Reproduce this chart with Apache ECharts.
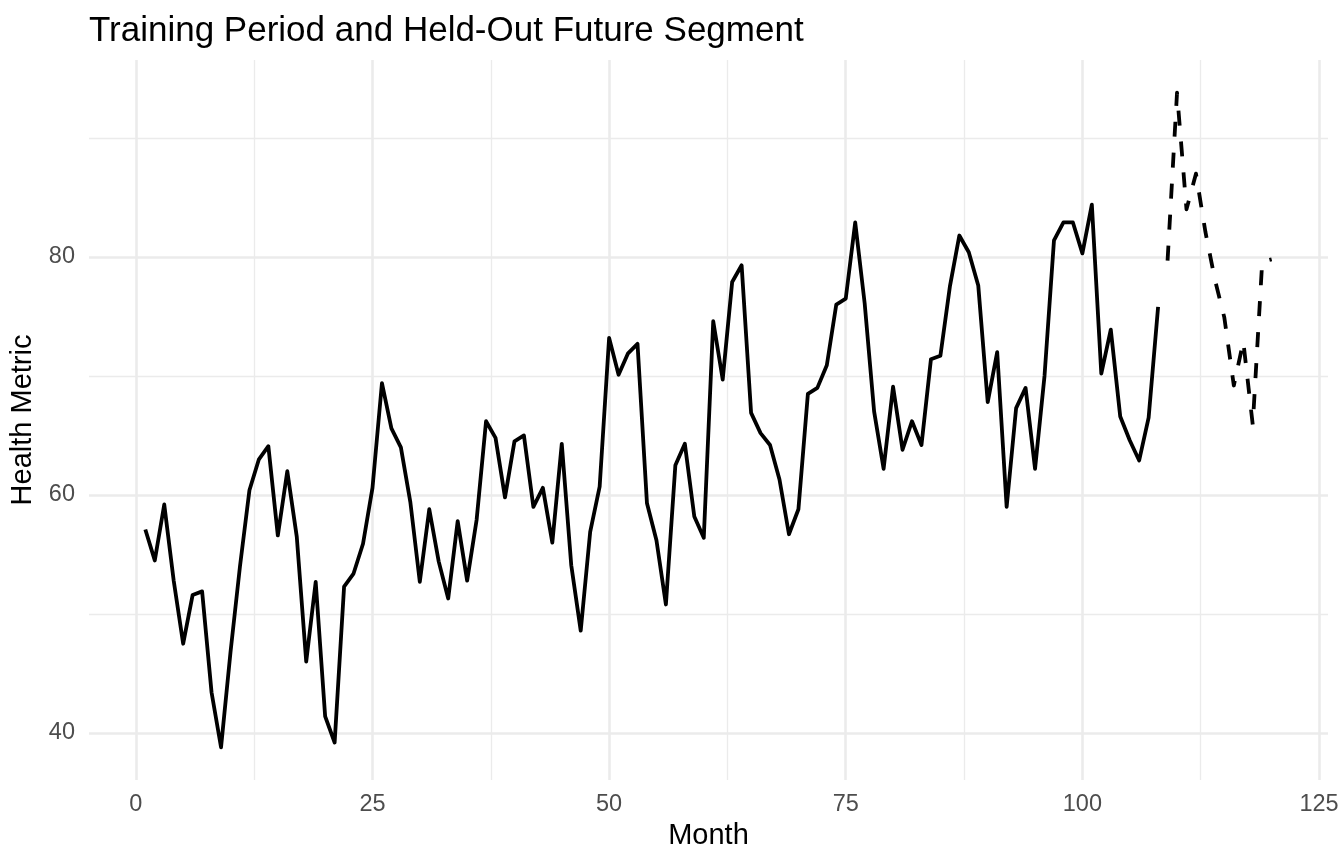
<!DOCTYPE html>
<html>
   <head>       <meta charset="utf-8">   </head>
   <body style="margin:0;">
       <div id="container" style="width:1344px; height:864px;"></div>
       <script type="text/javascript" src="https://cdn.jsdelivr.net/npm/echarts@6/dist/echarts.min.js"></script>
       <script type="text/javascript">

// monthly values
var trainValues=[
    57.1,54.5,59.2,52.8,47.5,51.6,51.9,43.4,38.8,46.8,
    54.0,60.4,63.0,64.1,56.6,62.0,56.5,46.0,52.7,41.4,
    39.2,52.3,53.4,55.9,60.6,69.4,65.6,64.0,59.4,52.7,
    58.8,54.4,51.3,57.8,52.8,57.9,66.2,64.8,59.8,64.5,
    65.0,59.0,60.6,56.0,64.3,54.1,48.6,56.9,60.7,73.2,
    70.1,71.9,72.7,59.3,56.2,50.8,62.5,64.3,58.2,56.4,
    74.6,69.7,77.9,79.3,66.9,65.2,64.2,61.3,56.7,58.8,
    68.5,69.0,70.9,76.0,76.5,82.9,76.1,67.0,62.2,69.1,
    63.8,66.2,64.2,71.4,71.7,77.5,81.8,80.4,77.6,67.8,
    72.0,59.0,67.3,69.0,62.2,70.0,81.4,82.9,82.9,80.3,
    84.4,70.2,73.9,66.6,64.6,62.9,66.5,75.8
];
var futureValues=[79.7,93.8,84.0,87.0,82.1,78.1,74.9,69.2,72.9,65.9,79.6,79.8];
var firstTrainMonth=1, firstFutureMonth=109;

var xMajor=[0,25,50,75,100,125];
var xMinor=[12.5,37.5,62.5,87.5,112.5];
var yMajor=[40,60,80];
var yMinor=[50,70,90];

function toPairs(vals,start){
    var out=[];
    for(var i=0;i<vals.length;i++) out.push([start+i,vals[i]]);
    return out;
}

var gridCol='#ebebeb';
var xMin=-4.95, xMax=125.95, yMin=36.05, yMax=96.55;

var dom = document.getElementById("container");
var myChart = echarts.init(dom);

option = {
    animation:false,
    backgroundColor:'#fff',
    textStyle:{fontFamily:'Liberation Sans'},
    title:{
        text:'Training Period and Held-Out Future Segment',
        left:89, top:14, padding:0,
        textStyle:{fontSize:35,fontWeight:'normal',color:'#000',fontFamily:'Liberation Sans'}
    },
    grid:{left:89, right:16, top:60, bottom:84, containLabel:false},
    xAxis:[{
        type:'value', min:xMin, max:xMax,
        name:'Month', nameLocation:'middle', nameGap:38,
        nameTextStyle:{fontSize:29,color:'#000'},
        axisLine:{show:false}, 
        axisTick:{show:false, customValues:xMajor},
        axisLabel:{customValues:xMajor, fontSize:23.5, color:'#4d4d4d', margin:13},
        splitLine:{show:true, lineStyle:{color:gridCol,width:2.6}}
    },{
        type:'value', min:xMin, max:xMax, position:'bottom',
        axisLine:{show:false},
        axisTick:{show:false, customValues:xMinor},
        axisLabel:{show:false, customValues:xMinor},
        splitLine:{show:true, lineStyle:{color:gridCol,width:1.3}}
    }],
    yAxis:[{
        type:'value', min:yMin, max:yMax,
        name:'Health Metric', nameLocation:'middle', nameGap:44,
        nameTextStyle:{fontSize:29,color:'#000'},
        axisLine:{show:false},
        axisTick:{show:false, customValues:yMajor},
        axisLabel:{customValues:yMajor, fontSize:23.5, color:'#4d4d4d', margin:14},
        splitLine:{show:true, lineStyle:{color:gridCol,width:2.6}}
    },{
        type:'value', min:yMin, max:yMax, position:'left',
        axisLine:{show:false},
        axisTick:{show:false, customValues:yMinor},
        axisLabel:{show:false, customValues:yMinor},
        splitLine:{show:true, lineStyle:{color:gridCol,width:1.3}}
    }],
    series:[{
        name:'Training', type:'line', xAxisIndex:0, yAxisIndex:0,
        data:toPairs(trainValues,firstTrainMonth),
        showSymbol:false, symbol:'none',
        lineStyle:{color:'#000', width:3.8, join:'round'}
    },{
        name:'Future', type:'line', xAxisIndex:0, yAxisIndex:0,
        data:toPairs(futureValues,firstFutureMonth),
        showSymbol:false, symbol:'none',
        lineStyle:{color:'#000', width:3.8, type:[15,16], join:'round'}
    }]
};

if (option && typeof option === "object") {
    myChart.setOption(option, true);
}
       </script>
   </body>
</html>
